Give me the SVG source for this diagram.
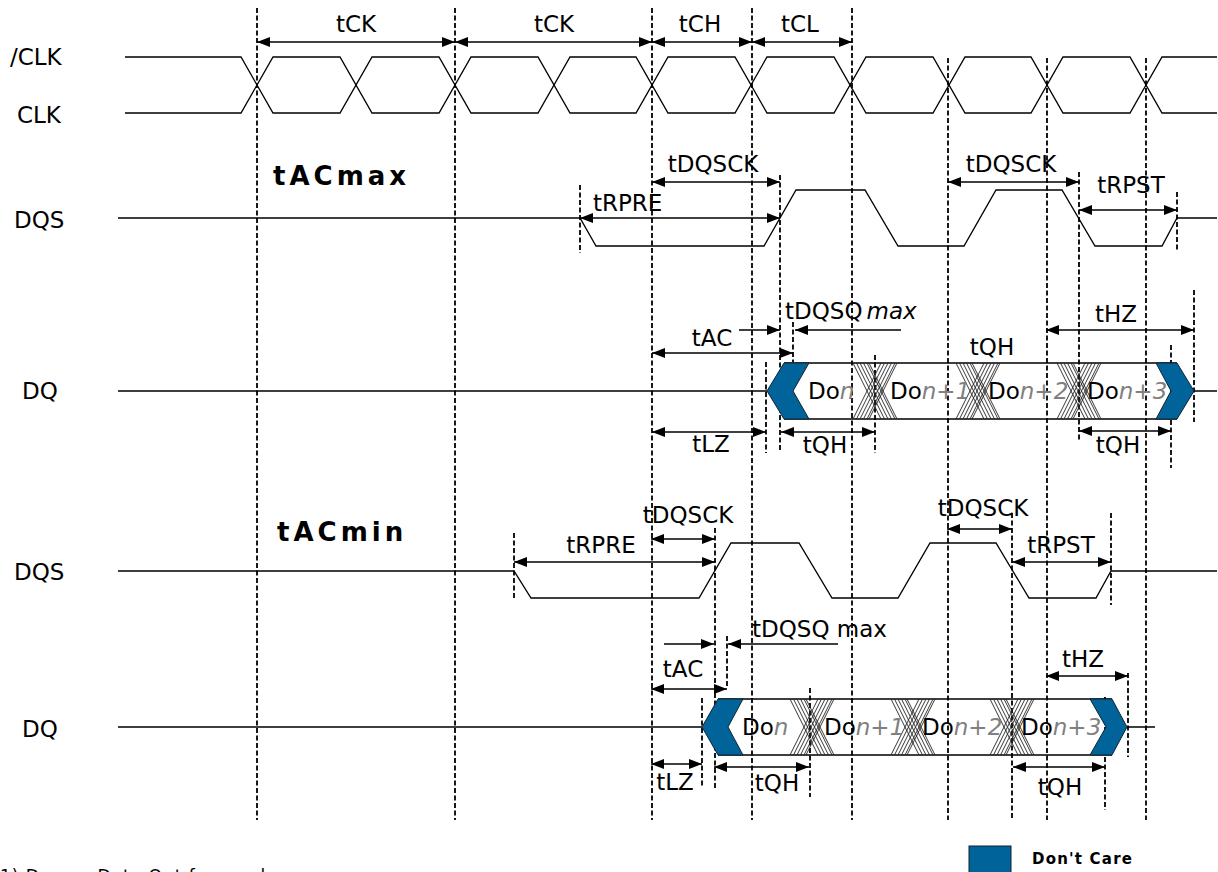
<svg xmlns="http://www.w3.org/2000/svg" width="1218" height="872" viewBox="0 0 1218 872">
<style>
.w{fill:none;stroke:#000;stroke-width:1.3}
.g{stroke:#000;stroke-width:1.8;stroke-dasharray:5,2.5;fill:none}
.d{stroke:#000;stroke-width:1.4;fill:none}
.b{marker-start:url(#ah);marker-end:url(#ah)}
.e{marker-end:url(#ah)}
.h{stroke:#222;stroke-width:0.9;fill:none}
.dc{fill:#00649a;stroke:#123;stroke-width:1}
text{font-family:"DejaVu Sans",Verdana,sans-serif;font-size:23px;fill:#000}
.m{text-anchor:middle}
.t{font-weight:bold;font-size:26px;letter-spacing:4px}
.i{font-style:italic;fill:#808080}
</style>
<defs>
<marker id="ah" viewBox="0 0 13 10" refX="13" refY="5" markerWidth="13" markerHeight="10" markerUnits="userSpaceOnUse" orient="auto-start-reverse">
<path d="M0,0 L13,5 L0,10 z" fill="#000"/>
</marker>
<g id="hx">
<path class="h" d="M-22,0 L6,56 M-18.5,0 L9.5,56 M-15,0 L13,56 M-11.5,0 L16.5,56 M-8,0 L20,56 M-6,0 L22,56 M-22,56 L6,0 M-18.5,56 L9.5,0 M-15,56 L13,0 M-11.5,56 L16.5,0 M-8,56 L20,0 M-6,56 L22,0"/>
</g>
</defs>
<rect width="1218" height="872" fill="#fff"/>

<g id="guides">
<path class="g" d="M257,8V820 M455,8V820 M652,8V820 M752,8V820 M852,8V820 M948,58V820 M1047,58V820 M1146,58V820"/>
<path class="g" d="M580,185V253 M780,175V452 M1079,172V440 M1177,192V252"/>
<path class="g" d="M766,362V453 M793,322V362 M875,355V453 M1171,345V468 M1194,290V422"/>
<path class="g" d="M514,533V600 M715,528V790 M1012,513V818 M1111,513V605"/>
<path class="g" d="M702,698V787 M727,636V688 M810,688V797 M1105,697V810 M1128,673V757"/>
</g>

<g id="clk">
<text x="10" y="65">/CLK</text>
<text x="17" y="123">CLK</text>
<polyline class="w" points="125,57 241,57 273,113 340,113 372,57 439,57 471,113 538,113 570,57 636,57 668,113 735,113 767,57 834,57 866,113 933,113 965,57 1031,57 1063,113 1130,113 1162,57 1217,57"/>
<polyline class="w" points="125,113 241,113 273,57 340,57 372,113 439,113 471,57 538,57 570,113 636,113 668,57 735,57 767,113 834,113 866,57 933,57 965,113 1031,113 1063,57 1130,57 1162,113 1217,113"/>
</g>

<g id="dqs-max">
<text x="14" y="228">DQS</text>
<text class="t" x="273" y="185">tACmax</text>
<polyline class="w" points="118,218 580,218 596,246 764,246 796,190 865,190 898,246 964,246 996,190 1062,190 1095,246 1162,246 1177,218 1217,218"/>
</g>

<g id="dq-max">
<text x="22" y="399">DQ</text>
<path class="w" d="M118,391H767 M1194,391H1217 M784,363H1177 M784,419H1177"/>
<use href="#hx" x="875" y="363"/>
<use href="#hx" x="978" y="363"/>
<use href="#hx" x="1079" y="363"/>
<polygon class="dc" points="767,391 784,363 809,363 793,391 809,419 784,419"/>
<polygon class="dc" points="1156,363 1177,363 1194,391 1177,419 1156,419 1171,391"/>
<text x="808" y="399">Do<tspan class="i">n</tspan></text>
<text x="890" y="399">Do<tspan class="i">n+1</tspan></text>
<text x="988" y="399">Do<tspan class="i">n+2</tspan></text>
<text x="1087" y="399">Do<tspan class="i">n+3</tspan></text>
</g>

<g id="dqs-min">
<text x="14" y="580">DQS</text>
<text class="t" x="277" y="541">tACmin</text>
<polyline class="w" points="118,571 514,571 531,598 699,598 731,543 799,543 832,598 898,598 930,543 996,543 1029,598 1096,598 1111,571 1217,571"/>
</g>

<g id="dq-min">
<text x="22" y="737">DQ</text>
<path class="w" d="M118,727H702 M1127,727H1155 M718,699H1112 M718,755H1112"/>
<use href="#hx" x="812" y="699"/>
<use href="#hx" x="913" y="699"/>
<use href="#hx" x="1012" y="699"/>
<polygon class="dc" points="702,727 718,699 743,699 728,727 743,755 718,755"/>
<polygon class="dc" points="1090,699 1112,699 1127,727 1112,755 1090,755 1106,727"/>
<text x="742" y="735">Do<tspan class="i">n</tspan></text>
<text x="824" y="735">Do<tspan class="i">n+1</tspan></text>
<text x="922" y="735">Do<tspan class="i">n+2</tspan></text>
<text x="1021" y="735">Do<tspan class="i">n+3</tspan></text>
</g>

<g id="connectors">
<path class="d b" d="M257,42H455"/>
<path class="d b" d="M455,42H652"/>
<path class="d b" d="M652,42H752"/>
<path class="d b" d="M752,42H852"/>
<path class="d b" d="M652,182H780"/>
<path class="d b" d="M580,218H780"/>
<path class="d b" d="M948,182H1079"/>
<path class="d b" d="M1079,210H1177"/>
<path class="d e" d="M739,330H780"/>
<path class="d e" d="M901,330H795"/>
<path class="d b" d="M652,353H793"/>
<path class="d b" d="M1046,330H1194"/>
<path class="d b" d="M652,432H766"/>
<path class="d b" d="M781,432H875"/>
<path class="d b" d="M1079,431H1171"/>
<path class="d b" d="M651,539H715"/>
<path class="d b" d="M514,562H715"/>
<path class="d b" d="M947,529H1012"/>
<path class="d b" d="M1012,562H1111"/>
<path class="d e" d="M664,644H714"/>
<path class="d e" d="M838,644H728"/>
<path class="d b" d="M651,689H727"/>
<path class="d b" d="M1046,676H1128"/>
<path class="d b" d="M651,764H702"/>
<path class="d b" d="M714,767H809"/>
<path class="d b" d="M1013,767H1105"/>
</g>

<g id="labels">
<text class="m" x="356" y="32">tCK</text>
<text class="m" x="554" y="32">tCK</text>
<text class="m" x="700" y="32">tCH</text>
<text class="m" x="800" y="32">tCL</text>
<text class="m" x="713" y="172">tDQSCK</text>
<text x="593" y="211">tRPRE</text>
<text class="m" x="1011" y="172">tDQSCK</text>
<text class="m" x="1131" y="193">tRPST</text>
<text x="785" y="319">tDQSQ<tspan dx="4" font-style="italic">max</tspan></text>
<text class="m" x="712" y="346">tAC</text>
<text class="m" x="992" y="355">tQH</text>
<text class="m" x="1116" y="322">tHZ</text>
<text class="m" x="711" y="452">tLZ</text>
<text class="m" x="825" y="453">tQH</text>
<text class="m" x="1118" y="453">tQH</text>
<text class="m" x="688" y="523">tDQSCK</text>
<text class="m" x="601" y="553">tRPRE</text>
<text class="m" x="983" y="516">tDQSCK</text>
<text class="m" x="1061" y="553">tRPST</text>
<text x="752" y="637">tDQSQ max</text>
<text class="m" x="683" y="677">tAC</text>
<text class="m" x="1083" y="667">tHZ</text>
<text class="m" x="675" y="790">tLZ</text>
<text class="m" x="777" y="791">tQH</text>
<text class="m" x="1060" y="795">tQH</text>
</g>

<g id="legend">
<rect class="dc" x="969" y="846" width="42" height="30"/>
<text x="1032" y="864" style="font-size:15px;font-weight:bold;letter-spacing:1.2px">Don't Care</text>
</g>
<g id="note">
<text x="0" y="882" style="font-size:17px;letter-spacing:1px">1) Do <tspan font-style="italic">n</tspan> = Data Out from column <tspan font-style="italic">n</tspan></text>
</g>
</svg>
